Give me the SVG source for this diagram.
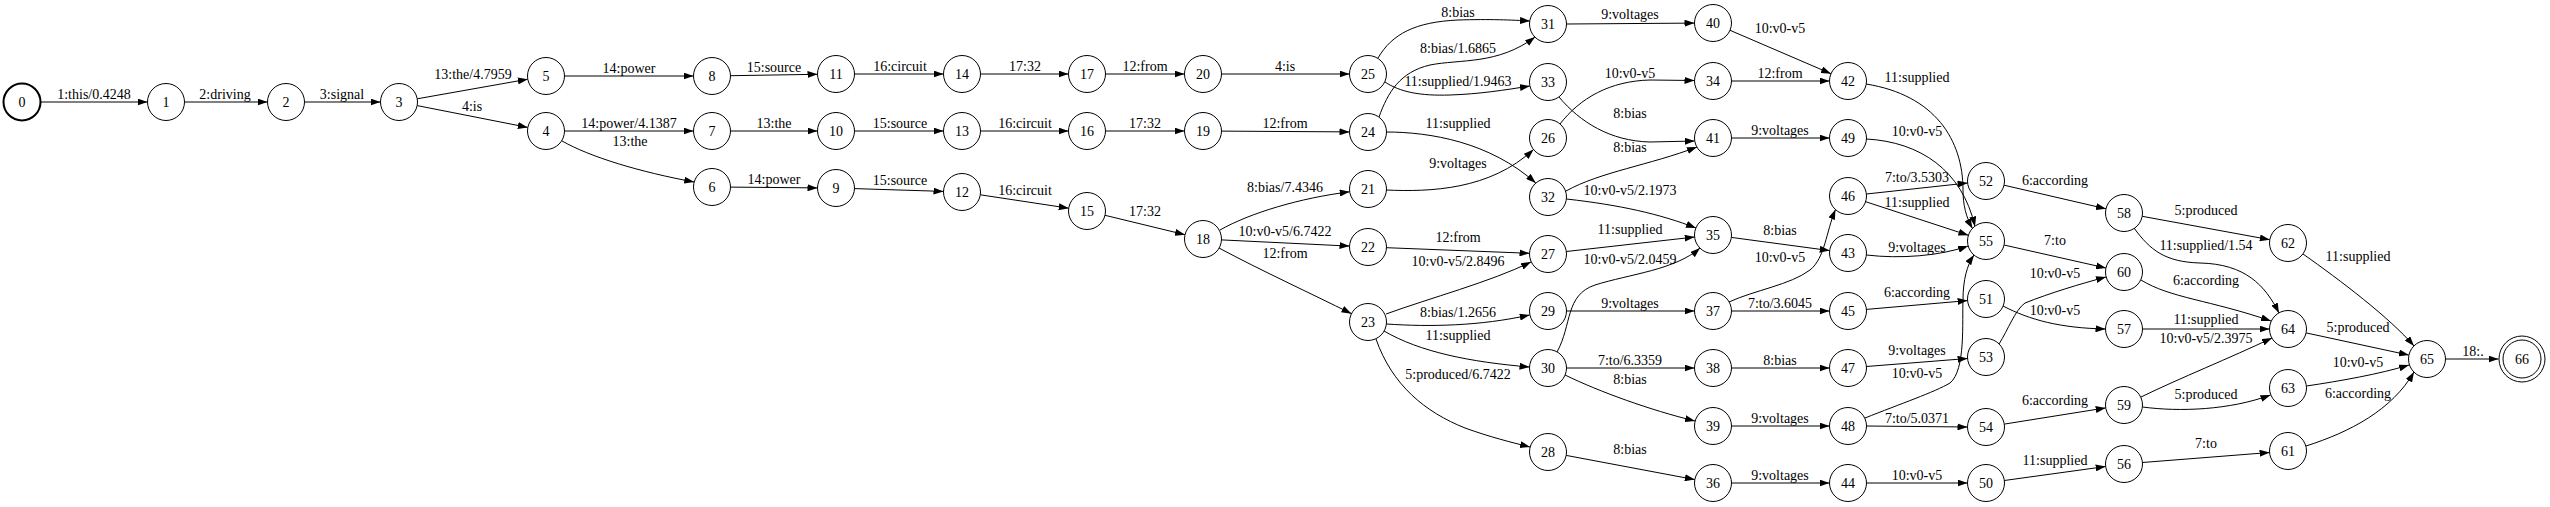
<svg xmlns="http://www.w3.org/2000/svg" width="2550" height="507" viewBox="0 0 2550 507">
<defs>
<marker id="ah" markerWidth="10" markerHeight="7" refX="10" refY="3.5" orient="auto" markerUnits="userSpaceOnUse"><path d="M0,0 L10,3.5 L0,7 z" fill="#000"/></marker>
<style>
text{font-family:"Liberation Serif","Times New Roman",serif;font-size:14px;text-anchor:middle;fill:#000}
circle{fill:#fff;stroke:#000;stroke-width:1}
.edges path{fill:none;stroke:#000;stroke-width:1;marker-end:url(#ah)}
</style>
</defs>
<rect width="2550" height="507" fill="#fff"/>
<g class="edges">
<g><path d="M41,102 L147.5,102"/><text x="94" y="99">1:this/0.4248</text></g>
<g><path d="M184.5,102 L267.5,102"/><text x="225" y="99">2:driving</text></g>
<g><path d="M304.5,102 L380.5,102"/><text x="342" y="99">3:signal</text></g>
<g><path d="M417.2,98.8 L527.8,79.2"/><text x="473" y="79">13:the/4.7959</text></g>
<g><path d="M417.2,105.6 L527.8,127.4"/><text x="472" y="111">4:is</text></g>
<g><path d="M564.5,76 L693.5,76"/><text x="629" y="73">14:power</text></g>
<g><path d="M564.5,131 L693.5,131"/><text x="629" y="128">14:power/4.1387</text></g>
<g><path d="M561.7,140.8 C590,157 640,172 694.2,182"/><text x="630" y="146">13:the</text></g>
<g><path d="M730.5,75.7 L817.5,74.3"/><text x="774" y="72">15:source</text></g>
<g><path d="M730.5,131 L817.5,131"/><text x="774" y="128">13:the</text></g>
<g><path d="M730.5,187.1 L817.5,187.9"/><text x="774" y="184">14:power</text></g>
<g><path d="M854.5,74 L943.5,74"/><text x="900" y="71">16:circuit</text></g>
<g><path d="M854.5,131 L943.5,131"/><text x="900" y="128">15:source</text></g>
<g><path d="M854.5,188.6 L943.5,191.4"/><text x="900" y="185">15:source</text></g>
<g><path d="M980.5,74 L1068.5,74"/><text x="1025" y="71">17:32</text></g>
<g><path d="M980.5,131 L1068.5,131"/><text x="1025" y="128">16:circuit</text></g>
<g><path d="M980.3,194.8 L1068.7,208.2"/><text x="1025" y="195">16:circuit</text></g>
<g><path d="M1105.5,74 L1184.5,74"/><text x="1145" y="71">12:from</text></g>
<g><path d="M1105.5,131 L1184.5,131"/><text x="1145" y="128">17:32</text></g>
<g><path d="M1105,215.3 L1185,234.7"/><text x="1145" y="216">17:32</text></g>
<g><path d="M1221.5,74 L1349.5,74"/><text x="1285" y="71">4:is</text></g>
<g><path d="M1221.5,131.1 L1349.5,131.9"/><text x="1285" y="128">12:from</text></g>
<g><path d="M1220,230 C1250,213 1300,198 1349.7,191.8"/><text x="1285" y="192">8:bias/7.4346</text></g>
<g><path d="M1221.5,239.9 L1349.5,246.1"/><text x="1285" y="236">10:v0-v5/6.7422</text></g>
<g><path d="M1219,248 C1260,270 1310,293 1351.5,313.7"/><text x="1285" y="258">12:from</text></g>
<g><path d="M1378,58 C1392,34 1415,22 1458,20 C1490,19 1512,20 1530,21"/><text x="1458" y="17">8:bias</text></g>
<g><path d="M1379,117 C1388,92 1400,72 1430,65 C1460,59 1498,65 1535,37"/><text x="1458" y="53">8:bias/1.6865</text></g>
<g><path d="M1385,82 C1400,92 1420,96 1450,95 C1480,94 1505,90 1529.9,86"/><text x="1458" y="86">11:supplied/1.9463</text></g>
<g><path d="M1386,132 C1430,132 1490,142 1535.8,183.1"/><text x="1458" y="128">11:supplied</text></g>
<g><path d="M1386,190 C1430,192 1490,190 1533.5,149.5"/><text x="1458" y="168">9:voltages</text></g>
<g><path d="M1386.5,247.7 L1529.5,253.3"/><text x="1458" y="242">12:from</text></g>
<g><path d="M1386,314 C1430,298 1490,282 1531,262"/><text x="1458" y="266">10:v0-v5/2.8496</text></g>
<g><path d="M1386.5,324 C1430,327 1480,326 1529.7,315"/><text x="1458" y="317">8:bias/1.2656</text></g>
<g><path d="M1384,331 C1420,352 1470,362 1529.5,367"/><text x="1458" y="340">11:supplied</text></g>
<g><path d="M1376,339 C1392,385 1425,412 1465,428 C1490,437 1510,442 1530,447"/><text x="1458" y="379">5:produced/6.7422</text></g>
<g><path d="M1566.5,24 L1694.5,23.1"/><text x="1630" y="19">9:voltages</text></g>
<g><path d="M1560,124 C1580,98 1610,81 1650,80 L1694.5,80.5"/><text x="1630" y="78">10:v0-v5</text></g>
<g><path d="M1559,97 C1580,122 1610,141 1650,142 L1694.7,141"/><text x="1630" y="118">8:bias</text></g>
<g><path d="M1566,191 C1600,172 1650,165 1697,147"/><text x="1630" y="152">8:bias</text></g>
<g><path d="M1566.5,199 C1620,205 1660,214 1696,228"/><text x="1630" y="195">10:v0-v5/2.1973</text></g>
<g><path d="M1566.3,251.5 L1694.7,237"/><text x="1630" y="234">11:supplied</text></g>
<g><path d="M1557,352 C1572,325 1565,295 1595,285 C1630,274 1675,270 1700,248"/><text x="1630" y="264">10:v0-v5/2.0459</text></g>
<g><path d="M1566.5,311 L1694.5,311"/><text x="1630" y="308">9:voltages</text></g>
<g><path d="M1566.5,368 L1694.5,368"/><text x="1630" y="365">7:to/6.3359</text></g>
<g><path d="M1565,375 C1600,392 1650,410 1695,421"/><text x="1630" y="384">8:bias</text></g>
<g><path d="M1566.2,455.4 L1694.8,479.6"/><text x="1630" y="454">8:bias</text></g>
<g><path d="M1730,30.3 L1831,73.7"/><text x="1780" y="33">10:v0-v5</text></g>
<g><path d="M1731.5,81 L1829.5,81"/><text x="1780" y="78">12:from</text></g>
<g><path d="M1731.5,138 L1829.5,138"/><text x="1780" y="135">9:voltages</text></g>
<g><path d="M1731.3,237.4 L1829.7,250.6"/><text x="1780" y="235">8:bias</text></g>
<g><path d="M1729,302 C1755,290 1790,285 1810,270 C1825,258 1826,232 1835.5,209.5"/><text x="1780" y="262">10:v0-v5</text></g>
<g><path d="M1731.5,311 L1829.5,311"/><text x="1780" y="308">7:to/3.6045</text></g>
<g><path d="M1731.5,368 L1829.5,368"/><text x="1780" y="365">8:bias</text></g>
<g><path d="M1731.5,426 L1829.5,426"/><text x="1780" y="423">9:voltages</text></g>
<g><path d="M1731.5,483 L1829.5,483"/><text x="1780" y="480">9:voltages</text></g>
<g><path d="M1866,84 C1935,95 1963,140 1963,190 C1963,205 1966,217 1972.5,228.5"/><text x="1917" y="82">11:supplied</text></g>
<g><path d="M1866.5,139 C1920,142 1962,170 1975,226.5"/><text x="1917" y="136">10:v0-v5</text></g>
<g><path d="M1866.4,194 L1967.6,183"/><text x="1917" y="182">7:to/3.5303</text></g>
<g><path d="M1865.6,201.7 L1968.4,235.3"/><text x="1917" y="207">11:supplied</text></g>
<g><path d="M1866.5,255 C1900,259 1940,256 1968,246"/><text x="1917" y="252">9:voltages</text></g>
<g><path d="M1866.4,309.4 L1967.6,300.6"/><text x="1917" y="297">6:according</text></g>
<g><path d="M1866.4,366.5 L1967.6,358.5"/><text x="1917" y="355">9:voltages</text></g>
<g><path d="M1865,418 C1900,404 1935,392 1950,383 C1966,370 1962,320 1963,300 C1963,280 1967,265 1974,255"/><text x="1917" y="378">10:v0-v5</text></g>
<g><path d="M1866.5,426 L1967.5,427"/><text x="1917" y="423">7:to/5.0371</text></g>
<g><path d="M1866.5,483 L1967.5,483"/><text x="1917" y="480">10:v0-v5</text></g>
<g><path d="M2004,185.2 L2106,208.8"/><text x="2055" y="185">6:according</text></g>
<g><path d="M2004,245 L2106,268"/><text x="2055" y="245">7:to</text></g>
<g><path d="M1999,344 C2008,330 2015,310 2025,303 C2050,293 2080,284 2106,277"/><text x="2055" y="278">10:v0-v5</text></g>
<g><path d="M2003,306 C2030,320 2060,328 2105.5,329"/><text x="2055" y="315">10:v0-v5</text></g>
<g><path d="M2004.3,424.1 L2105.7,407.9"/><text x="2055" y="405">6:according</text></g>
<g><path d="M2004.3,480.5 L2105.7,466.5"/><text x="2055" y="465">11:supplied</text></g>
<g><path d="M2142.2,216.3 L2269.8,239.7"/><text x="2206" y="215">5:produced</text></g>
<g><path d="M2134,228 C2150,250 2165,262 2200,263 C2245,264 2265,285 2279,313"/><text x="2206" y="250">11:supplied/1.54</text></g>
<g><path d="M2141,280 C2170,298 2210,300 2271,321"/><text x="2206" y="285">6:according</text></g>
<g><path d="M2142.5,329 L2269.5,329"/><text x="2206" y="324">11:supplied</text></g>
<g><path d="M2141,397 C2180,378 2230,358 2272,338"/><text x="2206" y="343">10:v0-v5/2.3975</text></g>
<g><path d="M2142.5,407 C2180,412 2230,410 2270.5,395"/><text x="2206" y="399">5:produced</text></g>
<g><path d="M2142.4,462.5 L2269.6,452.5"/><text x="2206" y="448">7:to</text></g>
<g><path d="M2303,254 C2340,280 2390,318 2414,346"/><text x="2358" y="261">11:supplied</text></g>
<g><path d="M2306.1,332.9 L2408.9,355.1"/><text x="2358" y="332">5:produced</text></g>
<g><path d="M2306.5,386 C2340,381 2380,374 2409,365"/><text x="2358" y="367">10:v0-v5</text></g>
<g><path d="M2306,446 C2350,432 2392,410 2414,372"/><text x="2358" y="398">6:according</text></g>
<g><path d="M2445.5,359 L2498.5,359"/><text x="2473" y="356">18:.</text></g>
</g>
<g id="n0"><circle cx="22" cy="102" r="18.5" style="stroke-width:2"/><text x="22" y="107">0</text></g>
<g id="n1"><circle cx="166" cy="102" r="18.5"/><text x="166" y="107">1</text></g>
<g id="n2"><circle cx="286" cy="102" r="18.5"/><text x="286" y="107">2</text></g>
<g id="n3"><circle cx="399" cy="102" r="18.5"/><text x="399" y="107">3</text></g>
<g id="n5"><circle cx="546" cy="76" r="18.5"/><text x="546" y="81">5</text></g>
<g id="n4"><circle cx="546" cy="131" r="18.5"/><text x="546" y="136">4</text></g>
<g id="n8"><circle cx="712" cy="76" r="18.5"/><text x="712" y="81">8</text></g>
<g id="n7"><circle cx="712" cy="131" r="18.5"/><text x="712" y="136">7</text></g>
<g id="n6"><circle cx="712" cy="187" r="18.5"/><text x="712" y="192">6</text></g>
<g id="n11"><circle cx="836" cy="74" r="18.5"/><text x="836" y="79">11</text></g>
<g id="n10"><circle cx="836" cy="131" r="18.5"/><text x="836" y="136">10</text></g>
<g id="n9"><circle cx="836" cy="188" r="18.5"/><text x="836" y="193">9</text></g>
<g id="n14"><circle cx="962" cy="74" r="18.5"/><text x="962" y="79">14</text></g>
<g id="n13"><circle cx="962" cy="131" r="18.5"/><text x="962" y="136">13</text></g>
<g id="n12"><circle cx="962" cy="192" r="18.5"/><text x="962" y="197">12</text></g>
<g id="n17"><circle cx="1087" cy="74" r="18.5"/><text x="1087" y="79">17</text></g>
<g id="n16"><circle cx="1087" cy="131" r="18.5"/><text x="1087" y="136">16</text></g>
<g id="n15"><circle cx="1087" cy="211" r="18.5"/><text x="1087" y="216">15</text></g>
<g id="n20"><circle cx="1203" cy="74" r="18.5"/><text x="1203" y="79">20</text></g>
<g id="n19"><circle cx="1203" cy="131" r="18.5"/><text x="1203" y="136">19</text></g>
<g id="n18"><circle cx="1203" cy="239" r="18.5"/><text x="1203" y="244">18</text></g>
<g id="n25"><circle cx="1368" cy="74" r="18.5"/><text x="1368" y="79">25</text></g>
<g id="n24"><circle cx="1368" cy="132" r="18.5"/><text x="1368" y="137">24</text></g>
<g id="n21"><circle cx="1368" cy="189" r="18.5"/><text x="1368" y="194">21</text></g>
<g id="n22"><circle cx="1368" cy="247" r="18.5"/><text x="1368" y="252">22</text></g>
<g id="n23"><circle cx="1368" cy="322" r="18.5"/><text x="1368" y="327">23</text></g>
<g id="n31"><circle cx="1548" cy="24" r="18.5"/><text x="1548" y="29">31</text></g>
<g id="n33"><circle cx="1548" cy="82" r="18.5"/><text x="1548" y="87">33</text></g>
<g id="n26"><circle cx="1548" cy="138" r="18.5"/><text x="1548" y="143">26</text></g>
<g id="n32"><circle cx="1548" cy="197" r="18.5"/><text x="1548" y="202">32</text></g>
<g id="n27"><circle cx="1548" cy="254" r="18.5"/><text x="1548" y="259">27</text></g>
<g id="n29"><circle cx="1548" cy="311" r="18.5"/><text x="1548" y="316">29</text></g>
<g id="n30"><circle cx="1548" cy="368" r="18.5"/><text x="1548" y="373">30</text></g>
<g id="n28"><circle cx="1548" cy="452" r="18.5"/><text x="1548" y="457">28</text></g>
<g id="n40"><circle cx="1713" cy="23" r="18.5"/><text x="1713" y="28">40</text></g>
<g id="n34"><circle cx="1713" cy="81" r="18.5"/><text x="1713" y="86">34</text></g>
<g id="n41"><circle cx="1713" cy="138" r="18.5"/><text x="1713" y="143">41</text></g>
<g id="n35"><circle cx="1713" cy="235" r="18.5"/><text x="1713" y="240">35</text></g>
<g id="n37"><circle cx="1713" cy="311" r="18.5"/><text x="1713" y="316">37</text></g>
<g id="n38"><circle cx="1713" cy="368" r="18.5"/><text x="1713" y="373">38</text></g>
<g id="n39"><circle cx="1713" cy="426" r="18.5"/><text x="1713" y="431">39</text></g>
<g id="n36"><circle cx="1713" cy="483" r="18.5"/><text x="1713" y="488">36</text></g>
<g id="n42"><circle cx="1848" cy="81" r="18.5"/><text x="1848" y="86">42</text></g>
<g id="n49"><circle cx="1848" cy="138" r="18.5"/><text x="1848" y="143">49</text></g>
<g id="n46"><circle cx="1848" cy="196" r="18.5"/><text x="1848" y="201">46</text></g>
<g id="n43"><circle cx="1848" cy="253" r="18.5"/><text x="1848" y="258">43</text></g>
<g id="n45"><circle cx="1848" cy="311" r="18.5"/><text x="1848" y="316">45</text></g>
<g id="n47"><circle cx="1848" cy="368" r="18.5"/><text x="1848" y="373">47</text></g>
<g id="n48"><circle cx="1848" cy="426" r="18.5"/><text x="1848" y="431">48</text></g>
<g id="n44"><circle cx="1848" cy="483" r="18.5"/><text x="1848" y="488">44</text></g>
<g id="n52"><circle cx="1986" cy="181" r="18.5"/><text x="1986" y="186">52</text></g>
<g id="n55"><circle cx="1986" cy="241" r="18.5"/><text x="1986" y="246">55</text></g>
<g id="n51"><circle cx="1986" cy="299" r="18.5"/><text x="1986" y="304">51</text></g>
<g id="n53"><circle cx="1986" cy="357" r="18.5"/><text x="1986" y="362">53</text></g>
<g id="n54"><circle cx="1986" cy="427" r="18.5"/><text x="1986" y="432">54</text></g>
<g id="n50"><circle cx="1986" cy="483" r="18.5"/><text x="1986" y="488">50</text></g>
<g id="n58"><circle cx="2124" cy="213" r="18.5"/><text x="2124" y="218">58</text></g>
<g id="n60"><circle cx="2124" cy="272" r="18.5"/><text x="2124" y="277">60</text></g>
<g id="n57"><circle cx="2124" cy="329" r="18.5"/><text x="2124" y="334">57</text></g>
<g id="n59"><circle cx="2124" cy="405" r="18.5"/><text x="2124" y="410">59</text></g>
<g id="n56"><circle cx="2124" cy="464" r="18.5"/><text x="2124" y="469">56</text></g>
<g id="n62"><circle cx="2288" cy="243" r="18.5"/><text x="2288" y="248">62</text></g>
<g id="n64"><circle cx="2288" cy="329" r="18.5"/><text x="2288" y="334">64</text></g>
<g id="n63"><circle cx="2288" cy="388" r="18.5"/><text x="2288" y="393">63</text></g>
<g id="n61"><circle cx="2288" cy="451" r="18.5"/><text x="2288" y="456">61</text></g>
<g id="n65"><circle cx="2427" cy="359" r="18.5"/><text x="2427" y="364">65</text></g>
<g id="n66"><circle cx="2522" cy="359" r="23"/><circle cx="2522" cy="359" r="19"/><text x="2522" y="364">66</text></g>
</svg>
